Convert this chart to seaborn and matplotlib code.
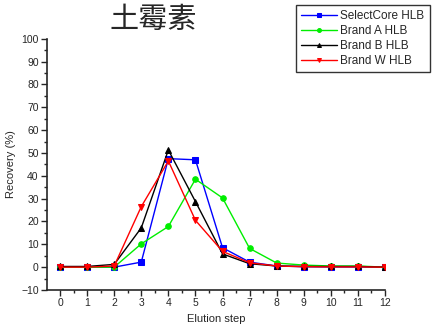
import matplotlib
matplotlib.use("Agg")
import matplotlib.pyplot as plt
import seaborn as sns
import pandas as pd
from matplotlib.ticker import MultipleLocator

steps = list(range(13))
selectcore = [0, 0, 0, 2.2, 47.5, 47.0, 8.5, 2.2, 0.5, 0.2, 0.1, 0.1, 0]
brand_a = [0, 0, 0, 10.2, 17.8, 38.5, 30.3, 8.2, 1.8, 0.9, 0.5, 0.5, 0]
brand_b = [0.3, 0.3, 1.2, 17.2, 51.3, 28.7, 5.8, 1.5, 0.5, 0.3, 0.3, 0.3, 0]
brand_w = [0, 0, 0.5, 26.5, 46.5, 20.5, 6.9, 1.9, 0.5, 0.2, 0.1, 0.1, 0]

series_names = ["SelectCore HLB", "Brand A HLB", "Brand B HLB", "Brand W HLB"]
series_values = [selectcore, brand_a, brand_b, brand_w]
colors = ["#0000ff", "#00ee00", "#000000", "#ff0000"]
markers = ["s", "o", "^", "v"]

sns.set_style("ticks")
plt.rcParams["font.family"] = ["Liberation Sans", "DejaVu Sans"]

fig = plt.figure(figsize=(4.37, 3.28), dpi=100)
ax = fig.add_axes([0.1076, 0.1159, 0.7735, 0.766])

for name, vals, c, m in zip(series_names, series_values, colors, markers):
    df = pd.DataFrame({"step": steps, "value": vals})
    sns.lineplot(data=df, x="step", y="value", ax=ax, color=c, marker=m,
                 markersize=4, markeredgecolor=c, markerfacecolor=c,
                 linewidth=1.0, label=name)

ax.set_xlim(-0.48, 12)
ax.set_ylim(-10, 100)
ax.xaxis.set_major_locator(MultipleLocator(1))
ax.xaxis.set_minor_locator(MultipleLocator(0.5))
ax.yaxis.set_major_locator(MultipleLocator(10))
ax.yaxis.set_minor_locator(MultipleLocator(5))
ax.tick_params(axis="both", which="major", length=4, width=1, labelsize=7.5, direction="out", pad=2)
ax.tick_params(axis="both", which="minor", length=2.5, width=1, direction="out")
for side in ["top", "right"]:
    ax.spines[side].set_visible(False)
for side in ["left", "bottom"]:
    ax.spines[side].set_linewidth(1.2)

ax.set_xlabel("Elution step", fontsize=8, labelpad=4)
ax.set_ylabel("Recovery (%)", fontsize=8, labelpad=4)

ax.get_legend().remove()
handles, labels = ax.get_legend_handles_labels()
leg = fig.legend(handles, labels, loc="upper left", bbox_to_anchor=(296 / 437, 1 - 5 / 328),
                 frameon=True, fontsize=8.5, handlelength=3.0, handletextpad=0.3,
                 labelspacing=0.25, borderpad=0.45, fancybox=False, borderaxespad=0,
                 markerscale=0.7)
leg.get_frame().set_edgecolor("black")
leg.get_frame().set_linewidth(1.0)

fig.text(153 / 437, 1 - 20 / 328, "土霉素", fontsize=21, ha="center", va="center",
         family=["Noto Sans CJK SC", "DejaVu Sans"], fontweight="light")

fig.savefig("out.png", dpi=100)
